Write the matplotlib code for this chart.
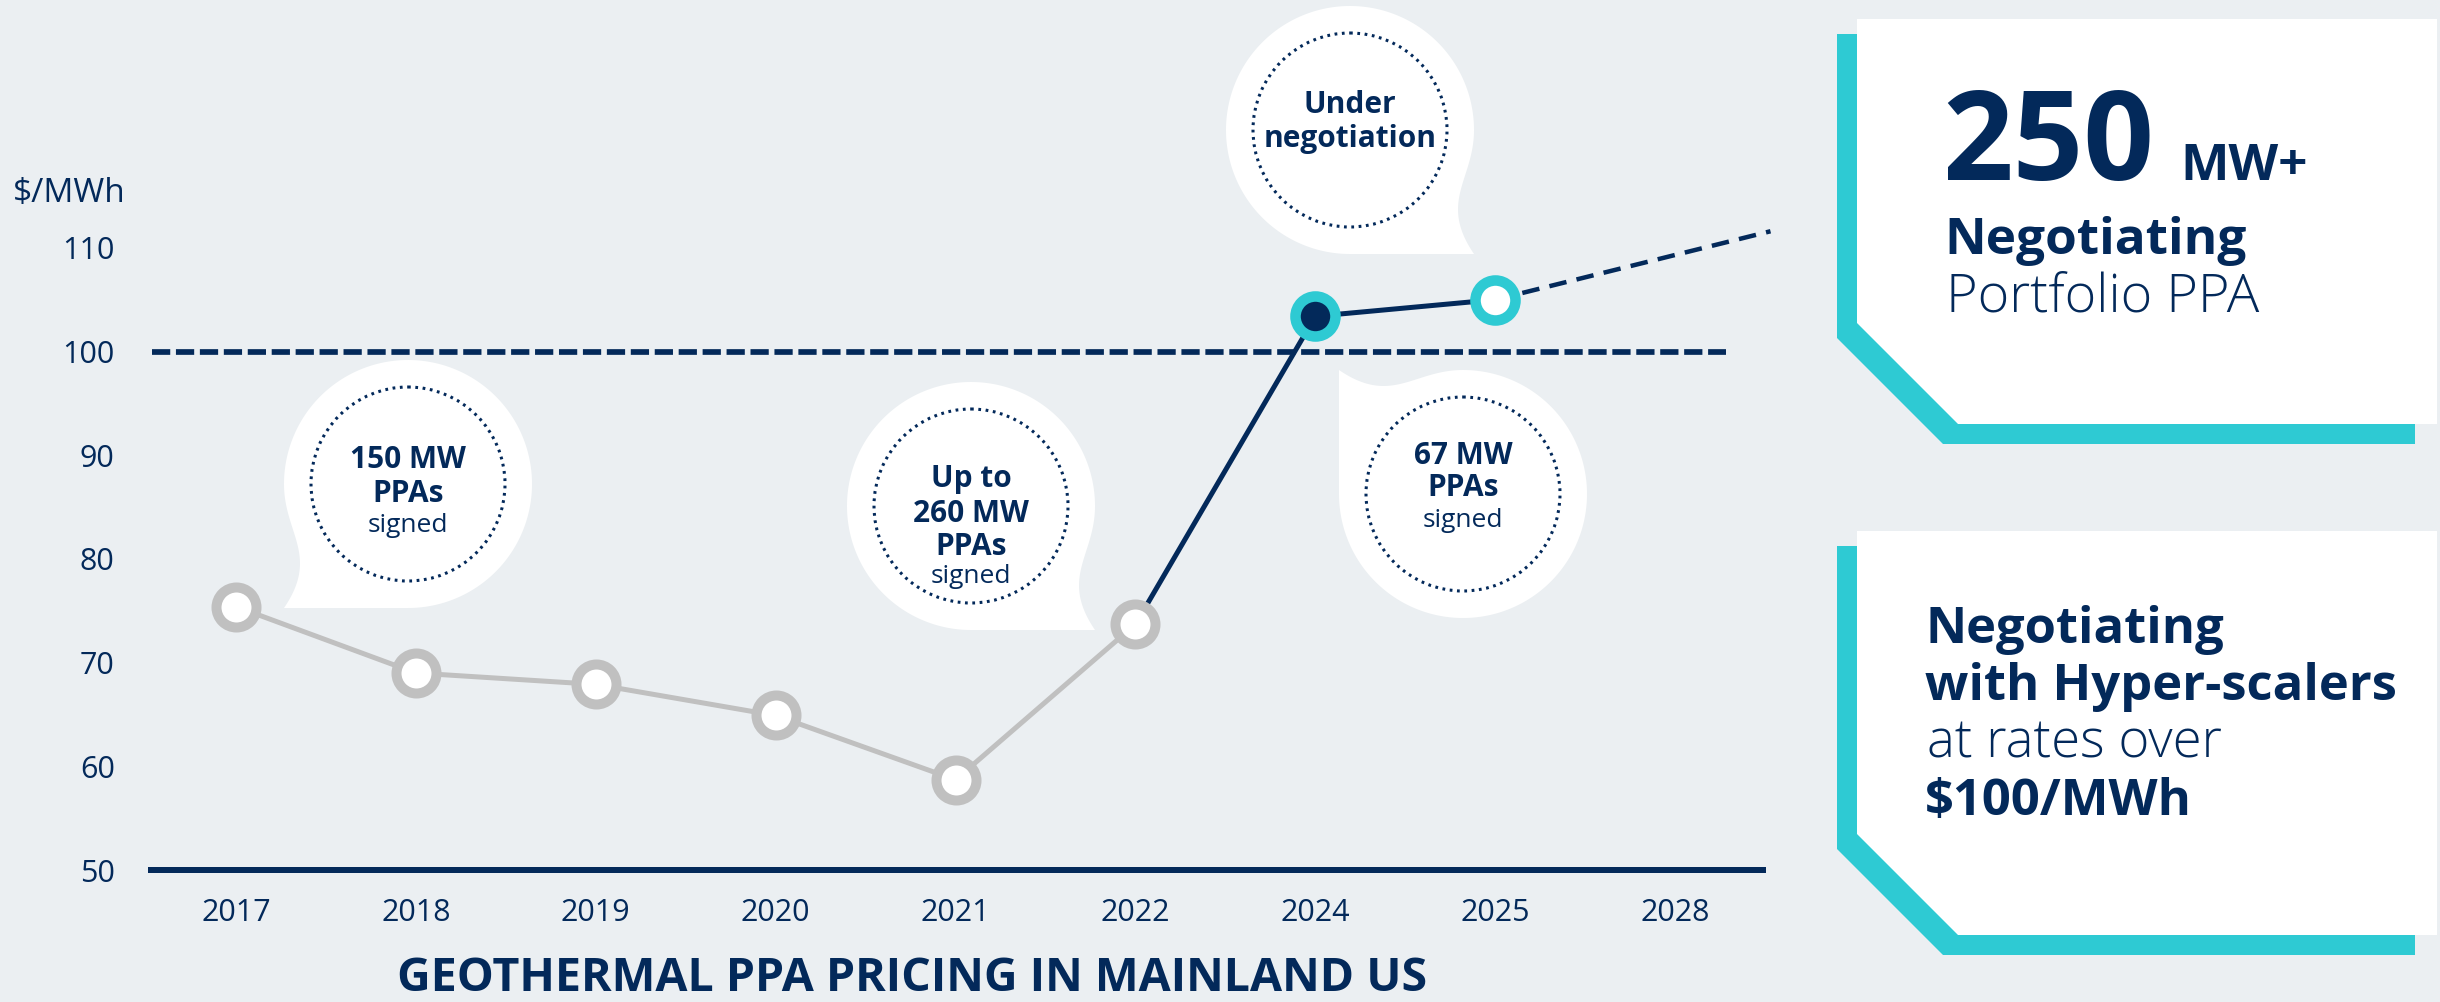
import numpy as np
import matplotlib
matplotlib.use("Agg")
import matplotlib.pyplot as plt
from matplotlib.patches import Polygon, Circle

# ---------------- data ----------------
years = ["2017", "2018", "2019", "2020", "2021", "2022", "2024", "2025", "2028"]
signed_prices = [75.4, 69.0, 67.9, 64.9, 58.7, 73.7]      # 2017-2022
recent_prices = [73.7, 103.4, 105.0]                        # 2022, 2024, 2025
projection_pos = [7, 8.53]                                   # 2025 -> beyond 2028
projection_prices = [105.0, 111.6]
benchmark_price = 100
yticks = [50, 60, 70, 80, 90, 100, 110]
y_unit = "$/MWh"
title = "GEOTHERMAL PPA PRICING IN MAINLAND US"

# ---------------- style ----------------
NAVY = "#03295a"
CYAN = "#2ecad3"
GRAY = "#c0c0c0"
BG = "#ebeff2"
FONT = ["Open Sans", "DejaVu Sans"]
plt.rcParams["font.family"] = FONT

W, H = 2440, 1002
PX = 72 / 100.0  # points per pixel

fig = plt.figure(figsize=(W / 100, H / 100), dpi=100, facecolor=BG)

# overlay in pixel coordinates (y down)
ov = fig.add_axes([0, 0, 1, 1])
ov.set_xlim(0, W)
ov.set_ylim(H, 0)
ov.axis("off")
ov.set_zorder(0)

ax = fig.add_axes([148 / W, (H - 870) / H, (1766 - 148) / W, (870 - 196) / H])
ax.set_facecolor("none")
ax.set_zorder(2)
ax.set_xlim(-0.489, 8.505)
ax.set_ylim(50, 115)

for s in ["top", "right", "left"]:
    ax.spines[s].set_visible(False)
ax.spines["bottom"].set_color(NAVY)
ax.spines["bottom"].set_linewidth(6 * PX)
ax.spines["bottom"].set_capstyle("butt")

ax.set_xticks(range(len(years)), years)
ax.set_yticks(yticks)
ax.tick_params(axis="both", length=0, labelsize=22, colors=NAVY)
ax.tick_params(axis="y", pad=24)
ax.tick_params(axis="x", pad=20)

# benchmark dashed line
ax.axhline(benchmark_price, xmin=0.0023, xmax=0.975, color=NAVY,
           lw=5.7 * PX, dashes=(3.2, 1.0), zorder=2)

# recent navy line
ax.plot([5, 6, 7], recent_prices, color=NAVY, lw=5 * PX, zorder=3,
        solid_capstyle="round")
# projection
ax.plot(projection_pos, projection_prices, color=NAVY, lw=4.5 * PX,
        dashes=(3.9, 2.3), zorder=3, clip_on=False)

# historical gray line with markers
ax.plot(range(len(signed_prices)), signed_prices, color=GRAY, lw=5 * PX,
        marker="o", ms=28.8, mfc="white", mec=GRAY, mew=7.2, zorder=4)
# 2024 and 2025 markers
ax.plot([6], [recent_prices[1]], marker="o", ms=28.8, mfc=NAVY, mec=CYAN,
        mew=7.6, zorder=5, linestyle="none")
ax.plot([7], [recent_prices[2]], marker="o", ms=28.8, mfc="white", mec=CYAN,
        mew=7.6, zorder=5, linestyle="none")

# ---------------- speech bubbles ----------------
def bubble_points(cx, cy, R, corner):
    pts = [(-R, R), (0, R)]
    t = np.linspace(np.pi / 2, -np.pi, 240)
    pts += list(zip(R * np.cos(t), R * np.sin(t)))
    P0 = np.array([-R, 0.0])
    P1 = np.array([-R, 0.40 * R])
    P2 = np.array([-R + 0.29 * R, 0.575 * R])
    P3 = np.array([-R, R])
    u = np.linspace(0, 1, 80)[:, None]
    bz = ((1 - u) ** 3) * P0 + 3 * ((1 - u) ** 2) * u * P1 + 3 * (1 - u) * u ** 2 * P2 + u ** 3 * P3
    pts += [tuple(p) for p in bz]
    pts = np.array(pts)
    x, y = pts[:, 0], pts[:, 1]
    if corner == "bl":
        X, Y = x, y
    elif corner == "br":
        X, Y = -x, y
    else:  # "tl"
        X, Y = -y, x
    return np.column_stack([cx + X, cy + Y])


def bubble(cx, cy, corner, lines, R=124, r=97):
    ov.add_patch(Polygon(bubble_points(cx, cy, R, corner), closed=True,
                         facecolor="white", edgecolor="none", zorder=1))
    ov.add_patch(Circle((cx, cy), r, facecolor="none", edgecolor=NAVY,
                        lw=2.2, linestyle=(0, (0.9, 1.5)), zorder=2))
    for txt, weight, size, yb in lines:
        ov.text(cx, yb, txt, ha="center", va="baseline", fontsize=size,
                fontweight=weight, color=NAVY, zorder=3)


BS, SS = 21.5, 19
bubble(408, 484, "bl", [("150 MW", "bold", BS, 468), ("PPAs", "bold", BS, 502),
                       ("signed", "normal", SS, 532)])
bubble(971, 506, "br", [("Up to", "bold", BS, 487), ("260 MW", "bold", BS, 522),
                       ("PPAs", "bold", BS, 555), ("signed", "normal", SS, 583)])
bubble(1463, 494, "tl", [("67 MW", "bold", BS, 464), ("PPAs", "bold", BS, 496),
                        ("signed", "normal", SS, 527)])
bubble(1350, 130, "br", [("Under", "bold", BS, 113), ("negotiation", "bold", BS, 147)])

# ---------------- axis labels ----------------
ov.text(13, 202, y_unit, ha="left", va="baseline", fontsize=24, color=NAVY,
        parse_math=False)
ov.text(912, 991, title, ha="center", va="baseline", fontsize=33.5,
        fontweight="bold", color=NAVY)

# ---------------- right panels ----------------
def panel(top, bottom):
    cy_top, cy_bot, cy_chamf = top + 15, bottom + 20, bottom - 101 + 15
    cyan = [(1837, cy_top), (2415, cy_top), (2415, cy_bot),
            (1837 + (cy_bot - cy_chamf), cy_bot), (1837, cy_chamf)]
    ov.add_patch(Polygon(cyan, closed=True, facecolor=CYAN, edgecolor="none", zorder=1))
    white = [(1857, top), (2437, top), (2437, bottom), (1958, bottom), (1857, bottom - 101)]
    ov.add_patch(Polygon(white, closed=True, facecolor="white", edgecolor="none", zorder=2))


panel(19, 424)
panel(531, 935)

ov.text(1942, 180, "250", ha="left", va="baseline", fontsize=89,
        fontweight="bold", color=NAVY, zorder=3)
ov.text(2180, 180, "MW+", ha="left", va="baseline", fontsize=37,
        fontweight="bold", color=NAVY, zorder=3)
ov.text(1944, 254, "Negotiating", ha="left", va="baseline", fontsize=37,
        fontweight="bold", color=NAVY, zorder=3)
ov.text(1946, 312, "Portfolio PPA", ha="left", va="baseline", fontsize=39,
        fontweight="light", color=NAVY, zorder=3)

ov.text(1925, 643, "Negotiating", ha="left", va="baseline", fontsize=36.5,
        fontweight="bold", color=NAVY, zorder=3)
ov.text(1925, 700, "with Hyper-scalers", ha="left", va="baseline", fontsize=36.5,
        fontweight="bold", color=NAVY, zorder=3)
ov.text(1927, 757, "at rates over", ha="left", va="baseline", fontsize=38,
        fontweight="light", color=NAVY, zorder=3)
ov.text(1925, 815, "$100/MWh", ha="left", va="baseline", fontsize=36.5,
        fontweight="bold", color=NAVY, zorder=3, parse_math=False)

fig.savefig("out.png", dpi=100, facecolor=BG)
